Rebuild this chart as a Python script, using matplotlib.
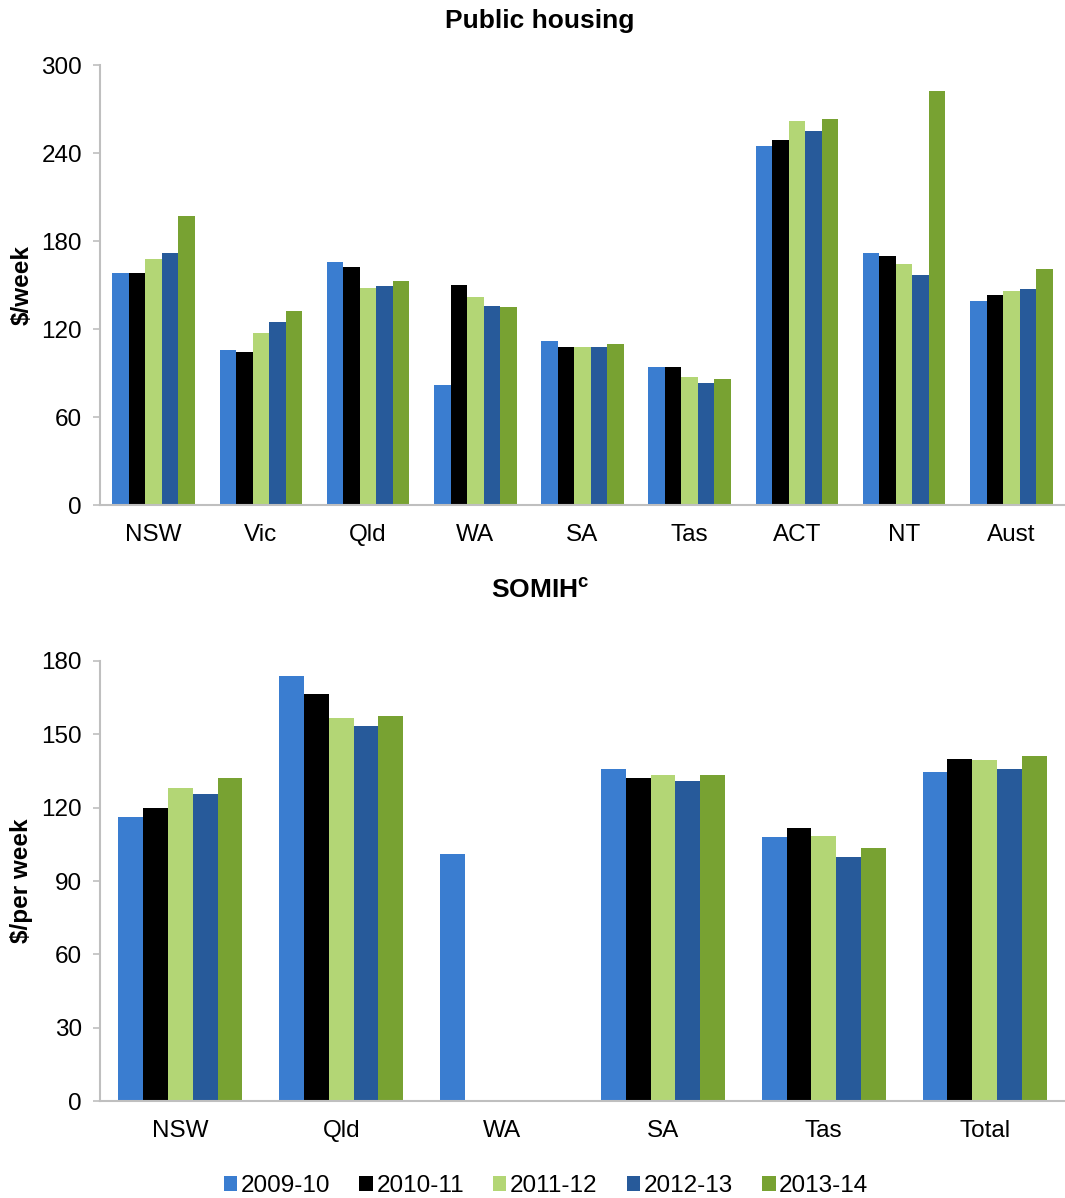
import matplotlib
matplotlib.use("Agg")
import matplotlib.pyplot as plt
import numpy as np
from matplotlib.patches import Patch

plt.rcParams["font.family"] = ["Liberation Sans", "DejaVu Sans"]
plt.rcParams["mathtext.fontset"] = "custom"
plt.rcParams["mathtext.bf"] = "Liberation Sans:bold"
plt.rcParams["mathtext.rm"] = "Liberation Sans"

years = ["2009-10", "2010-11", "2011-12", "2012-13", "2013-14"]
colors = ["#3A7DD0", "#000000", "#B3D675", "#275A9A", "#78A232"]

# Public housing, $/week
public_states = ["NSW", "Vic", "Qld", "WA", "SA", "Tas", "ACT", "NT", "Aust"]
public_2009 = [158, 106, 166, 82, 112, 94, 245, 172, 139]
public_2010 = [158, 104, 162, 150, 108, 94, 249, 170, 143]
public_2011 = [168, 117, 148, 142, 108, 87, 262, 164, 146]
public_2012 = [172, 125, 149, 136, 108, 83, 255, 157, 147]
public_2013 = [197, 132, 153, 135, 110, 86, 263, 282, 161]

# SOMIH, $/per week (WA only reported for 2009-10)
somih_states = ["NSW", "Qld", "WA", "SA", "Tas", "Total"]
somih_2009 = [116, 174, 101, 136, 108, 134.5]
somih_2010 = [120, 166.5, np.nan, 132, 111.5, 140]
somih_2011 = [128, 156.5, np.nan, 133.5, 108.5, 139.5]
somih_2012 = [125.5, 153.5, np.nan, 131, 100, 136]
somih_2013 = [132, 157.5, np.nan, 133.5, 103.5, 141]

GREY = "#BFBFBF"
FS = 17.5


def draw_panel(ax, cats, series, ymax, step, ylabel):
    x = np.arange(len(cats))
    n = len(series)
    group = 0.77
    w = group / n
    for i, vals in enumerate(series):
        ax.bar(x - group / 2 + w * (i + 0.5), vals, width=w,
               color=colors[i], linewidth=0, label=years[i])
    ax.set_xlim(-0.5, len(cats) - 0.5)
    ax.set_ylim(0, ymax)
    ax.set_yticks(np.arange(0, ymax + 1, step))
    ax.set_xticks(x)
    ax.set_xticklabels(cats)
    for s in ["top", "right"]:
        ax.spines[s].set_visible(False)
    for s in ["left", "bottom"]:
        ax.spines[s].set_color(GREY)
        ax.spines[s].set_linewidth(1.5)
    ax.tick_params(axis="y", colors=GREY, labelcolor="black", labelsize=FS,
                   length=5, width=1.2, pad=8)
    ax.tick_params(axis="x", length=0, labelsize=FS, pad=14)
    ax.set_ylabel(ylabel, fontsize=FS, fontweight="bold")
    ax.yaxis.set_label_coords(-0.069, 0.5)


fig = plt.figure(figsize=(10.65, 11.98), dpi=100)
ax1 = fig.add_axes([100 / 1065, 1 - 505 / 1198, 965 / 1065, 440 / 1198])
ax2 = fig.add_axes([100 / 1065, 1 - 1101 / 1198, 965 / 1065, 440 / 1198])

draw_panel(ax1, public_states,
           [public_2009, public_2010, public_2011, public_2012, public_2013],
           300, 60, "$/week")
draw_panel(ax2, somih_states,
           [somih_2009, somih_2010, somih_2011, somih_2012, somih_2013],
           180, 30, "$/per week")

fig.text(540 / 1065, 1 - 21 / 1198, "Public housing", ha="center", va="center",
         fontsize=19, fontweight="bold")
fig.text(540 / 1065, 1 - 590 / 1198, r"SOMIH$^{\mathbf{c}}$", ha="center",
         va="center", fontsize=19, fontweight="bold")

handles = [Patch(facecolor=c, edgecolor="none") for c in colors]
fig.legend(handles, years, loc="center", ncol=5, frameon=False,
           bbox_to_anchor=(546 / 1065, 1 - 1186 / 1198), fontsize=FS,
           handlelength=0.55, handleheight=0.55, handletextpad=0.15,
           columnspacing=1.2)

fig.savefig("out.png", dpi=100)
